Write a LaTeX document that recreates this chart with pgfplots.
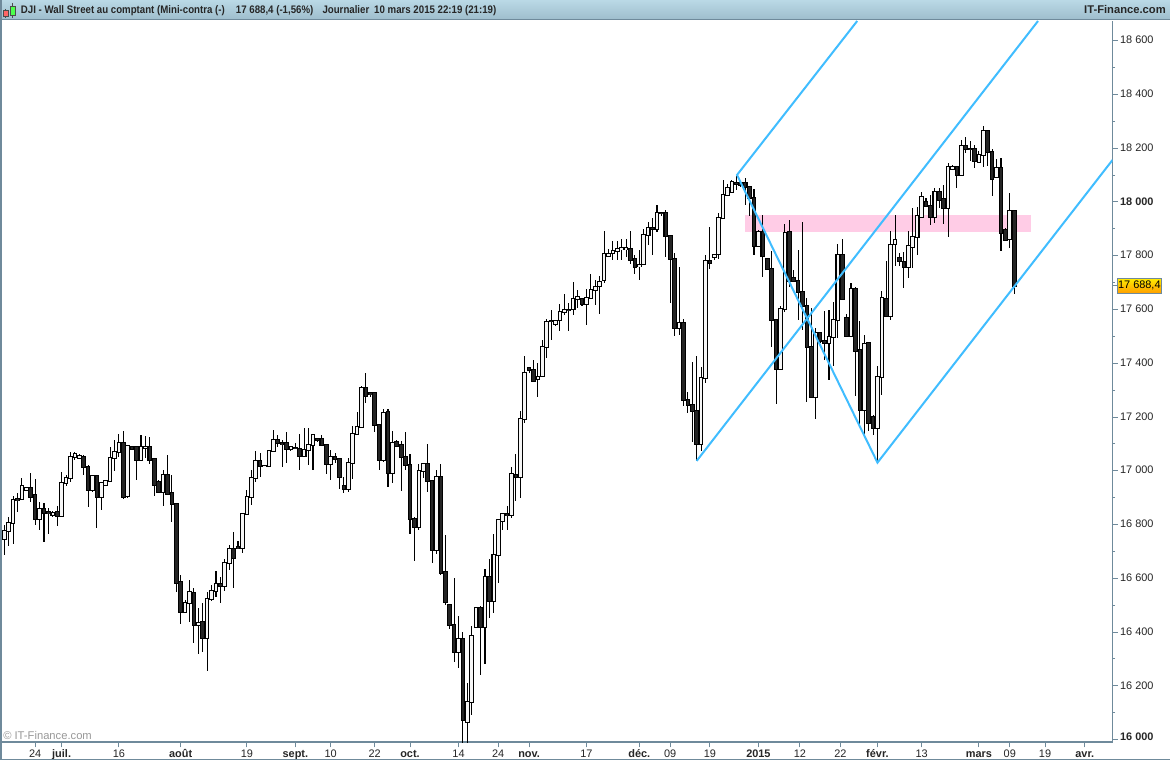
\documentclass[border=0pt]{standalone}
\usepackage{fontspec}
\setmainfont{Liberation Sans}
\usepackage{pgfplots}
\usepackage{pgfplotstable}
\pgfplotsset{compat=1.18}
\definecolor{axiscol}{HTML}{6F8A9B}
\definecolor{chan}{HTML}{40BDFF}
\definecolor{band}{HTML}{FFCCE6}
\definecolor{bodyw}{HTML}{F6F6F6}
\definecolor{bodyd}{HTML}{242424}
\definecolor{headtop}{HTML}{BAD9E6}
\definecolor{headbot}{HTML}{9FBECD}
\pgfplotstableread{
i o h l c
0 16745 16798 16687 16775
1 16775 16829 16722 16805
2 16805 16906 16727 16891
3 16894 16916 16848 16891
4 16894 16972 16891 16942
5 16927 16941 16926 16935
6 16935 16991 16885 16904
7 16909 16968 16798 16819
8 16819 16885 16780 16857
9 16857 16881 16736 16844
10 16845 16860 16765 16842
11 16834 16850 16829 16842
12 16845 16869 16795 16831
13 16831 16994 16827 16953
14 16956 16984 16945 16972
15 16972 17071 16957 17050
16 17050 17071 17040 17061
17 17046 17061 17043 17055
18 17050 17059 16984 17013
19 17013 17021 16866 16927
20 16927 16982 16922 16979
21 16979 16982 16788 16904
22 16904 16956 16854 16953
23 16946 16966 16943 16961
24 16961 17090 16958 17046
25 17046 17115 17000 17069
26 17069 17137 17053 17102
27 17102 17148 16896 16904
28 16907 17092 16900 17091
29 17087 17092 17080 17082
30 17087 17090 16966 17041
31 17041 17133 17037 17087
32 17086 17129 17046 17087
33 17087 17125 17025 17041
34 17042 17046 16906 16948
35 16957 16966 16918 16922
36 16922 17003 16869 16983
37 16983 17059 16912 16915
38 16916 16984 16809 16877
39 16875 16877 16549 16584
40 16585 16612 16430 16473
41 16474 16519 16469 16507
42 16507 16594 16438 16548
43 16544 16562 16358 16425
44 16425 16488 16318 16435
45 16436 16507 16326 16377
46 16377 16550 16256 16522
47 16522 16575 16517 16551
48 16551 16626 16532 16577
49 16577 16606 16509 16570
50 16570 16670 16554 16656
51 16656 16724 16631 16708
52 16708 16772 16564 16674
53 16715 16739 16709 16711
54 16711 16839 16695 16838
55 16838 16928 16835 16901
56 16901 17003 16872 16972
57 16972 17073 16959 17035
58 17035 17065 16978 17016
59 17016 17017 17015 17017
60 17016 17074 17015 17072
61 17072 17152 17071 17113
62 17113 17133 17087 17102
63 17102 17114 17015 17098
64 17102 17144 17030 17080
65 17080 17092 17075 17087
66 17086 17102 17080 17083
67 17082 17137 17003 17056
68 17056 17158 17052 17079
69 17076 17158 17022 17095
70 17095 17134 17003 17134
71 17119 17122 17108 17116
72 17117 17134 17092 17097
73 17097 17100 16988 17024
74 17024 17077 16966 17050
75 17050 17065 17028 17043
76 17043 17046 16932 16978
77 16942 16978 16919 16931
78 16931 17046 16922 17028
79 17028 17167 16970 17136
80 17136 17219 17133 17162
81 17162 17315 17159 17307
82 17307 17362 17253 17277
83 17289 17293 17273 17284
84 17288 17291 17145 17169
85 17169 17172 17003 17039
86 17039 17229 17031 17214
87 17217 17229 16941 16993
88 16993 17148 16956 17105
89 17108 17114 17090 17093
90 17095 17112 16926 17052
91 17052 17144 17003 17020
92 17020 17062 16765 16819
93 16819 16829 16666 16790
94 16790 17025 16780 16998
95 17000 17028 16972 17024
96 17024 17100 16922 16961
97 16961 16963 16656 16707
98 16707 17003 16690 16976
99 16976 17025 16612 16621
100 16622 16761 16501 16513
101 16501 16505 16410 16425
102 16425 16600 16290 16327
103 16327 16460 16267 16373
104 16373 16402 15980 16071
105 16067 16212 15980 16139
106 16139 16423 16092 16384
107 16417 16489 16414 16489
108 16489 16497 16241 16417
109 16417 16635 16282 16604
110 16604 16671 16454 16517
111 16517 16765 16470 16686
112 16686 16822 16584 16816
113 16814 16842 16780 16838
114 16838 16869 16780 16834
115 16834 17015 16825 16987
116 16983 17062 16889 16975
117 16975 17222 16897 17191
118 17191 17427 17176 17362
119 17381 17385 17362 17373
120 17373 17412 17332 17335
121 17340 17399 17275 17350
122 17354 17486 17350 17459
123 17459 17563 17421 17552
124 17558 17598 17486 17556
125 17545 17561 17540 17558
126 17560 17620 17521 17589
127 17589 17657 17579 17597
128 17599 17623 17521 17597
129 17600 17702 17579 17638
130 17640 17672 17607 17647
131 17638 17641 17613 17619
132 17619 17675 17542 17644
133 17641 17732 17639 17671
134 17671 17709 17617 17685
135 17686 17724 17583 17703
136 17708 17892 17700 17805
137 17797 17824 17794 17807
138 17809 17855 17784 17816
139 17816 17856 17784 17826
140 17825 17862 17784 17827
141 17826 17862 17794 17827
142 17824 17892 17769 17783
143 17786 17802 17732 17759
144 17760 17821 17709 17767
145 17768 17898 17765 17876
146 17876 17924 17840 17902
147 17904 17939 17802 17899
148 17898 17988 17889 17960
149 17958 17964 17948 17957
150 17957 17970 17796 17872
151 17872 17873 17625 17789
152 17789 17809 17502 17530
153 17530 17757 17505 17548
154 17548 17563 17241 17262
155 17262 17293 17214 17243
156 17243 17403 17108 17221
157 17221 17427 17037 17098
158 17098 17385 17075 17344
159 17344 17801 17325 17779
160 17779 17906 17749 17772
161 17794 17806 17784 17804
162 17805 17960 17786 17939
163 17939 18082 17937 18025
164 18025 18067 18022 18051
165 18038 18082 18037 18073
166 18072 18097 18045 18067
167 18069 18072 18057 18063
168 18069 18088 17989 18055
169 18055 18057 17948 18014
170 18014 18048 17803 17835
171 17835 17896 17831 17887
172 17887 17950 17722 17797
173 17787 17791 17745 17752
174 17750 17818 17462 17560
175 17560 17564 17249 17378
176 17380 17613 17378 17601
177 17601 17917 17592 17883
178 17887 17933 17683 17706
179 17716 17747 17702 17705
180 17705 17821 17559 17664
181 17664 17927 17522 17614
182 17612 17642 17255 17460
183 17460 17605 17270 17274
184 17274 17530 17193 17512
185 17512 17514 17477 17481
186 17481 17596 17412 17474
187 17474 17598 17338 17499
188 17498 17629 17390 17560
189 17560 17844 17493 17802
190 17802 17862 17636 17638
191 17567 17583 17499 17503
192 17503 17698 17499 17675
193 17675 17685 17279 17445
194 17448 17557 17164 17225
195 17225 17505 17133 17471
196 17474 17478 17148 17177
197 17199 17208 17133 17158
198 17158 17388 17028 17350
199 17349 17669 17282 17642
200 17638 17782 17573 17575
201 17574 17892 17561 17839
202 17843 17952 17760 17858
203 17791 17809 17760 17779
204 17776 17812 17679 17757
205 17757 17890 17716 17835
206 17831 17978 17753 17869
207 17869 17980 17803 17947
208 17945 18038 17939 18017
209 17998 18014 17980 17984
210 17984 18026 17915 17945
211 17945 18051 17921 18036
212 18036 18051 17979 18006
213 18010 18063 17918 17976
214 17976 18146 17871 18129
215 18124 18138 18117 18129
216 18129 18131 18053 18099
217 18099 18231 18097 18207
218 18207 18241 18181 18196
219 18198 18228 18154 18196
220 18196 18212 18128 18154
221 18148 18191 18146 18174
222 18174 18283 18131 18263
223 18263 18265 18134 18185
224 18185 18197 18022 18087
225 18092 18159 18088 18125
226 18125 18164 17819 17884
227 17895 17902 17855 17858
228 17861 18032 17828 17965
229 17965 17968 17658 17688.4
}\ohlc
\begin{document}
\begin{tikzpicture}[x=0.75pt,y=0.75pt]
\useasboundingbox (0,0) rectangle (1170,760);
\fill[white] (0,0) rectangle (1170,760);
\begin{axis}[
  at={(1.5pt,13.5pt)}, anchor=south west,
  scale only axis, width=832.9pt, height=540.75pt,
  xmin=-0.52, xmax=251.3, ymin=15991, ymax=18672.9,
  axis x line*=bottom, axis y line*=right,
  axis line style={-, color=axiscol, line width=0.9pt},
  tick align=outside,
  major tick length=4pt, minor tick length=2pt,
  tick style={color=axiscol, line width=0.7pt},
  tick label style={font=\fontsize{8.2}{9}\selectfont, color=black!85},
  xtick={7,13,26,40,55,66,74,84,92,103,112,119,132,144,151,160,171,180.4,189.6,198,208,221,228,236,245},
  xticklabels={24,\textbf{juil.},16,\textbf{ao\^ut},19,\textbf{sept.},10,22,\textbf{oct.},14,24,\textbf{nov.},17,\textbf{d\'ec.},09,19,\textbf{2015},12,22,\textbf{f\'evr.},13,\textbf{mars},09,19,\textbf{avr.}},
  typeset ticklabels with strut,
  xticklabel style={inner sep=0pt, yshift=-1pt},
  ytick={16000,16200,16400,16600,16800,17000,17200,17400,17600,17800,18000,18200,18400,18600},
  yticklabels={\raisebox{2.6pt}{\textbf{16 000}},16 200,16 400,16 600,16 800,17 000,17 200,17 400,17 600,17 800,\textbf{18 000},18 200,18 400,18 600},
  minor y tick num=1,
  yticklabel style={inner sep=0pt, xshift=1.5pt, yshift=-0.6pt},
  every axis plot/.append style={forget plot},
  after end axis/.code={
    \draw[axiscol, line width=0.7pt] (axis cs:251.3,17688.4) -- ++(3.5pt,0);
    \node[anchor=west, xshift=3.3pt, minimum width=33pt, minimum height=11pt, inner sep=0pt,
      draw=axiscol, line width=0.6pt, top color=yellow!85!orange, bottom color=orange!75!yellow,
      font=\fontsize{8.2}{9}\selectfont] at (axis cs:251.3,17688.4) {17 688,4};
  },
]
% resistance band
\addplot[draw=none, fill=band] coordinates {(167.96,17889.3) (232.8,17889.3) (232.8,17951.4) (167.96,17951.4)} --cycle;
% wicks
\addplot[draw=none, no markers, error bars/.cd, y dir=both, y explicit, error mark=none,
  error bar style={draw=black, solid, line width=0.8pt}]
  table[x=i, y expr={(\thisrow{h}+\thisrow{l})/2}, y error expr={(\thisrow{h}-\thisrow{l})/2}] {\ohlc};
% body outline
\addplot[draw=none, no markers, error bars/.cd, y dir=both, y explicit, error mark=none,
  error bar style={draw=black, solid, line width=3.5pt}]
  table[x=i, y expr={(\thisrow{o}+\thisrow{c})/2}, y error expr={abs(\thisrow{c}-\thisrow{o})/2+3.7}] {\ohlc};
% rising bodies
\addplot[draw=none, no markers, error bars/.cd, y dir=both, y explicit, error mark=none,
  error bar style={draw=bodyw, solid, line width=1.95pt}]
  table[x=i, y expr={(\thisrow{o}+\thisrow{c})/2}, y error expr={max(\thisrow{c}-\thisrow{o},0)/2}] {\ohlc};
% falling bodies
\addplot[draw=none, no markers, error bars/.cd, y dir=both, y explicit, error mark=none,
  error bar style={draw=bodyd, solid, line width=1.95pt}]
  table[x=i, y expr={(\thisrow{o}+\thisrow{c})/2}, y error expr={max(\thisrow{o}-\thisrow{c},0)/2}] {\ohlc};
% channel lines
\addplot[chan, line width=1.5pt, line join=miter] coordinates {(193.4,18672.9) (166.15,18100.2) (198.0,17030.2) (251.3,18156)};
\addplot[chan, line width=1.5pt] coordinates {(157.0,17036.6) (234.4,18672.9)};
\end{axis}
% frame and header
\shade[top color=headtop, bottom color=headbot] (0,760) rectangle (1170,741);
\fill[color=axiscol] (0,741) rectangle (1170,739.6);
\fill[color=axiscol] (0,0) rectangle (1.5,760);
\fill[color=axiscol] (0,0.2) rectangle (1170,1.5);
% header icon
\draw[black!70, line width=0.5pt] (5.5,751) -- (5.5,741.5);
\draw[black!70, fill=red!60, line width=0.5pt] (3,749.3) rectangle (8,743.3);
\draw[black!70, line width=0.5pt] (12.8,757) -- (12.8,741.5);
\draw[black!70, fill=green!70!white, line width=0.5pt] (10,754) rectangle (15.5,744.3);
% header text
\begin{scope}[every node/.style={inner sep=0pt, font=\bfseries\fontsize{8.2}{9}\selectfont, color=black!85}]
\node[anchor=base west, xscale=0.885, transform shape] at (20.7,746) {DJI - Wall Street au comptant (Mini-contra (-)};
\node[anchor=base west, xscale=0.885, transform shape] at (235.7,746) {17 688,4 (-1,56\%)};
\node[anchor=base west, xscale=0.885, transform shape] at (322.3,746) {Journalier};
\node[anchor=base west, xscale=0.885, transform shape] at (374,746) {10 mars 2015 22:19 (21:19)};
\node[anchor=base east, font=\bfseries\fontsize{8.4}{9}\selectfont] at (1166,746) {IT-Finance.com};
\end{scope}
\node[anchor=base west, inner sep=0pt, text=black!40, font=\fontsize{8.4}{9}\selectfont] at (3,20.5) {\copyright\ IT-Finance.com};
\end{tikzpicture}
\end{document}
